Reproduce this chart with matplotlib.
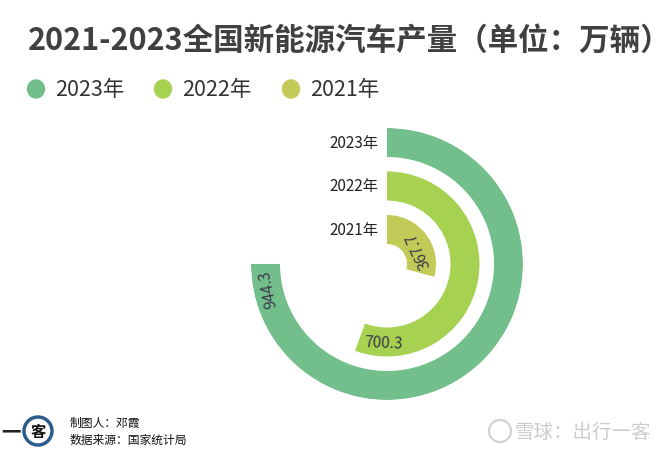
import numpy as np
import matplotlib.pyplot as plt
from matplotlib.patches import Ellipse

plt.rcParams['font.family'] = ['Noto Sans CJK SC', 'DejaVu Sans']

# data
years = ['2021年', '2022年', '2023年']
output = [367.7, 700.3, 944.3]          # 万辆
colors = ['#c2cb58', '#a6d151', '#72bf8b']
legend_order = [2, 1, 0]                 # 2023, 2022, 2021

title = '2021-2023全国新能源汽车产量（单位：万辆）'
maker = '制图人：邓霞'
source = '数据来源：国家统计局'
watermark = '雪球：出行一客'

W, H = 671, 452
fig = plt.figure(figsize=(W / 100, H / 100), dpi=100)

# polar axes, center at (387, 265) px, radius 136 px
cx, cy, R = 387, 265, 136
ax = fig.add_axes([(cx - R) / W, (H - cy - R) / H, 2 * R / W, 2 * R / H], projection='polar')
ax.set_theta_zero_location('N')
ax.set_theta_direction(-1)
ax.set_ylim(0, R)
ax.axis('off')

angle_max = 1259.0   # angle axis max
hole, band, bar_w = 20, 43.5, 29

for i, (yr, v, c) in enumerate(zip(years, output, colors)):
    r_in = hole + i * band
    r_mid = r_in + bar_w / 2
    theta = v / angle_max * 2 * np.pi
    ax.bar(0, bar_w, width=theta, bottom=r_in, align='edge', color=c, edgecolor='none')

    # category label at the start of the ring
    ax.annotate(yr, xy=(0, r_mid), xytext=(-6, 0), textcoords='offset points',
                ha='right', va='center', fontsize=11, color='#222222')

    # value label, inside the end of the bar, along the arc
    off = 24 / r_mid
    t_lab = theta - off
    rot = ((-np.degrees(t_lab) + 15) % 180) - 15
    ax.text(t_lab, r_mid, f'{v:.1f}', rotation=rot, rotation_mode='anchor',
            ha='center', va='center', fontsize=11, color='#3a3a4a')

# title
fig.text(28 / W, 1 - 41 / H, title, fontsize=22, fontweight='bold', color='#404040',
         ha='left', va='center')

# legend
lx = [36, 163, 291]
for x, k in zip(lx, legend_order):
    fig.patches.append(Ellipse((x / W, 1 - 90 / H), 17 / W, 18 / H,
                               transform=fig.transFigure, color=colors[k]))
    fig.text((x + 19) / W, 1 - 90 / H, years[k], fontsize=15.5, color='#333333',
             ha='left', va='center')

# footer logo
fig.text(1 / W, 1 - 433 / H, '一', fontsize=14, fontweight='bold', color='#222222',
         ha='left', va='center')
fig.patches.append(Ellipse((38 / W, 1 - 432 / H), 28 / W, 28 / H, transform=fig.transFigure,
                           facecolor='white', edgecolor='#2b5d8c', linewidth=2.5))
fig.text(38 / W, 1 - 432 / H, '客', fontsize=11, fontweight='bold', color='#111111',
         ha='center', va='center')

fig.text(70 / W, 1 - 424 / H, maker, fontsize=8.5, color='#111111', ha='left', va='center')
fig.text(70 / W, 1 - 440 / H, source, fontsize=8.5, color='#111111', ha='left', va='center')

# watermark
fig.patches.append(Ellipse((500 / W, 1 - 432 / H), 22 / W, 22 / H, transform=fig.transFigure,
                           facecolor='none', edgecolor='#d0d0d0', linewidth=1.5))
fig.text(514 / W, 1 - 432 / H, watermark, fontsize=14, color='#cccccc', ha='left', va='center')

fig.savefig('out.png', dpi=100)
